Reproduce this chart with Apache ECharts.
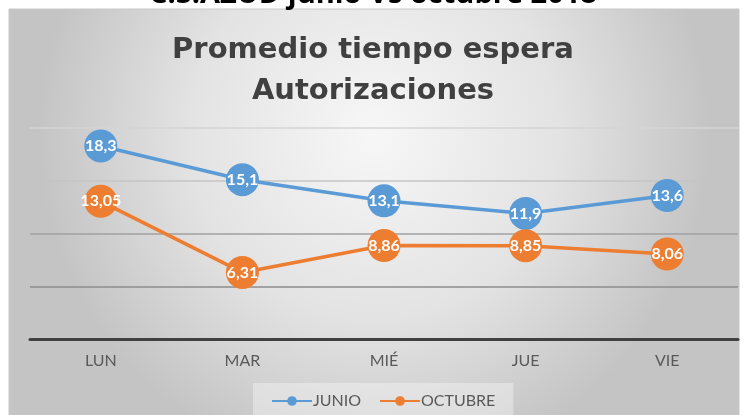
<!DOCTYPE html>
<html>
<head>
<meta charset="utf-8">
<script src="https://cdn.jsdelivr.net/npm/echarts@6/dist/echarts.min.js"></script>
<style>
    html, body { margin: 0; padding: 0; background: #fff; }
    #chart { width: 746px; height: 415px; }
</style>
</head>
<body>
<div id="chart"></div>
<script>
    // datos del gráfico
    const dias = ['LUN', 'MAR', 'MIÉ', 'JUE', 'VIE'];
    const junio = [18.3, 15.1, 13.1, 11.9, 13.6];
    const octubre = [13.05, 6.31, 8.86, 8.85, 8.06];

    const coma = p => String(p.value).replace('.', ',');
    const fuente = 'Lato, "Noto Sans", sans-serif';

    const chart = echarts.init(document.getElementById('chart'));
    chart.setOption({
        backgroundColor: '#fff',
        graphic: [
            {
                type: 'rect',
                z: -10,
                shape: { x: 9, y: 9, width: 730, height: 420 },
                style: {
                    fill: new echarts.graphic.RadialGradient(0.5, 0.3, 0.8, [
                        { offset: 0, color: '#f7f7f7' },
                        { offset: 0.55, color: '#e3e3e3' },
                        { offset: 1, color: '#c4c4c4' }
                    ]),
                    stroke: '#c8c8c8',
                    lineWidth: 1
                }
            },
            {
                type: 'text',
                left: 'center',
                top: -20,
                style: {
                    text: 'C.S.AZUD junio Vs octubre 2018',
                    font: 'bold 29px "Open Sans", sans-serif',
                    fill: '#000'
                }
            }
        ],
        title: {
            text: 'Promedio tiempo espera\nAutorizaciones',
            left: 'center',
            top: 25,
            textStyle: {
                fontFamily: '"DejaVu Sans", sans-serif',
                fontSize: 29,
                fontWeight: 'bold',
                color: '#404040',
                lineHeight: 41
            }
        },
        legend: {
            bottom: -4,
            left: 253,
            data: ['JUNIO', 'OCTUBRE'],
            itemWidth: 40,
            itemHeight: 12,
            itemGap: 18,
            padding: [10, 18, 10, 18],
            backgroundColor: 'rgba(255,255,255,0.35)',
            textStyle: { fontFamily: fuente, fontSize: 16, color: '#595959', padding: [0, 0, 0, -4] }
        },
        grid: {
            left: 30,
            right: 8,
            top: 128,
            bottom: 76
        },
        xAxis: {
            type: 'category',
            data: dias,
            boundaryGap: true,
            axisTick: { show: false },
            axisLine: { lineStyle: { color: '#404040', width: 3 } },
            axisLabel: { fontFamily: fuente, fontSize: 16, color: '#595959', margin: 14 }
        },
        yAxis: {
            type: 'value',
            min: 0,
            max: 20,
            interval: 5,
            axisLabel: { show: false },
            axisLine: { show: false },
            axisTick: { show: false },
            splitLine: {
                lineStyle: {
                    color: ['#404040', '#8c8c8c', '#a0a0a0', '#c4c4c4', '#d4d4d4'],
                    width: 1.5
                }
            }
        },
        series: [
            {
                name: 'JUNIO',
                type: 'line',
                data: junio,
                symbol: 'circle',
                symbolSize: 33,
                lineStyle: { width: 3.5, color: '#5B9BD5' },
                itemStyle: { color: '#5B9BD5' },
                label: {
                    show: true,
                    position: 'inside',
                    formatter: coma,
                    color: '#fff',
                    fontFamily: fuente,
                    fontWeight: 'bold',
                    fontSize: 16
                }
            },
            {
                name: 'OCTUBRE',
                type: 'line',
                data: octubre,
                symbol: 'circle',
                symbolSize: 33,
                lineStyle: { width: 3.5, color: '#ED7D31' },
                itemStyle: { color: '#ED7D31' },
                label: {
                    show: true,
                    position: 'inside',
                    formatter: coma,
                    color: '#fff',
                    fontFamily: fuente,
                    fontWeight: 'bold',
                    fontSize: 16
                }
            }
        ]
    });
    window.addEventListener('resize', () => chart.resize());
</script>
</body>
</html>
